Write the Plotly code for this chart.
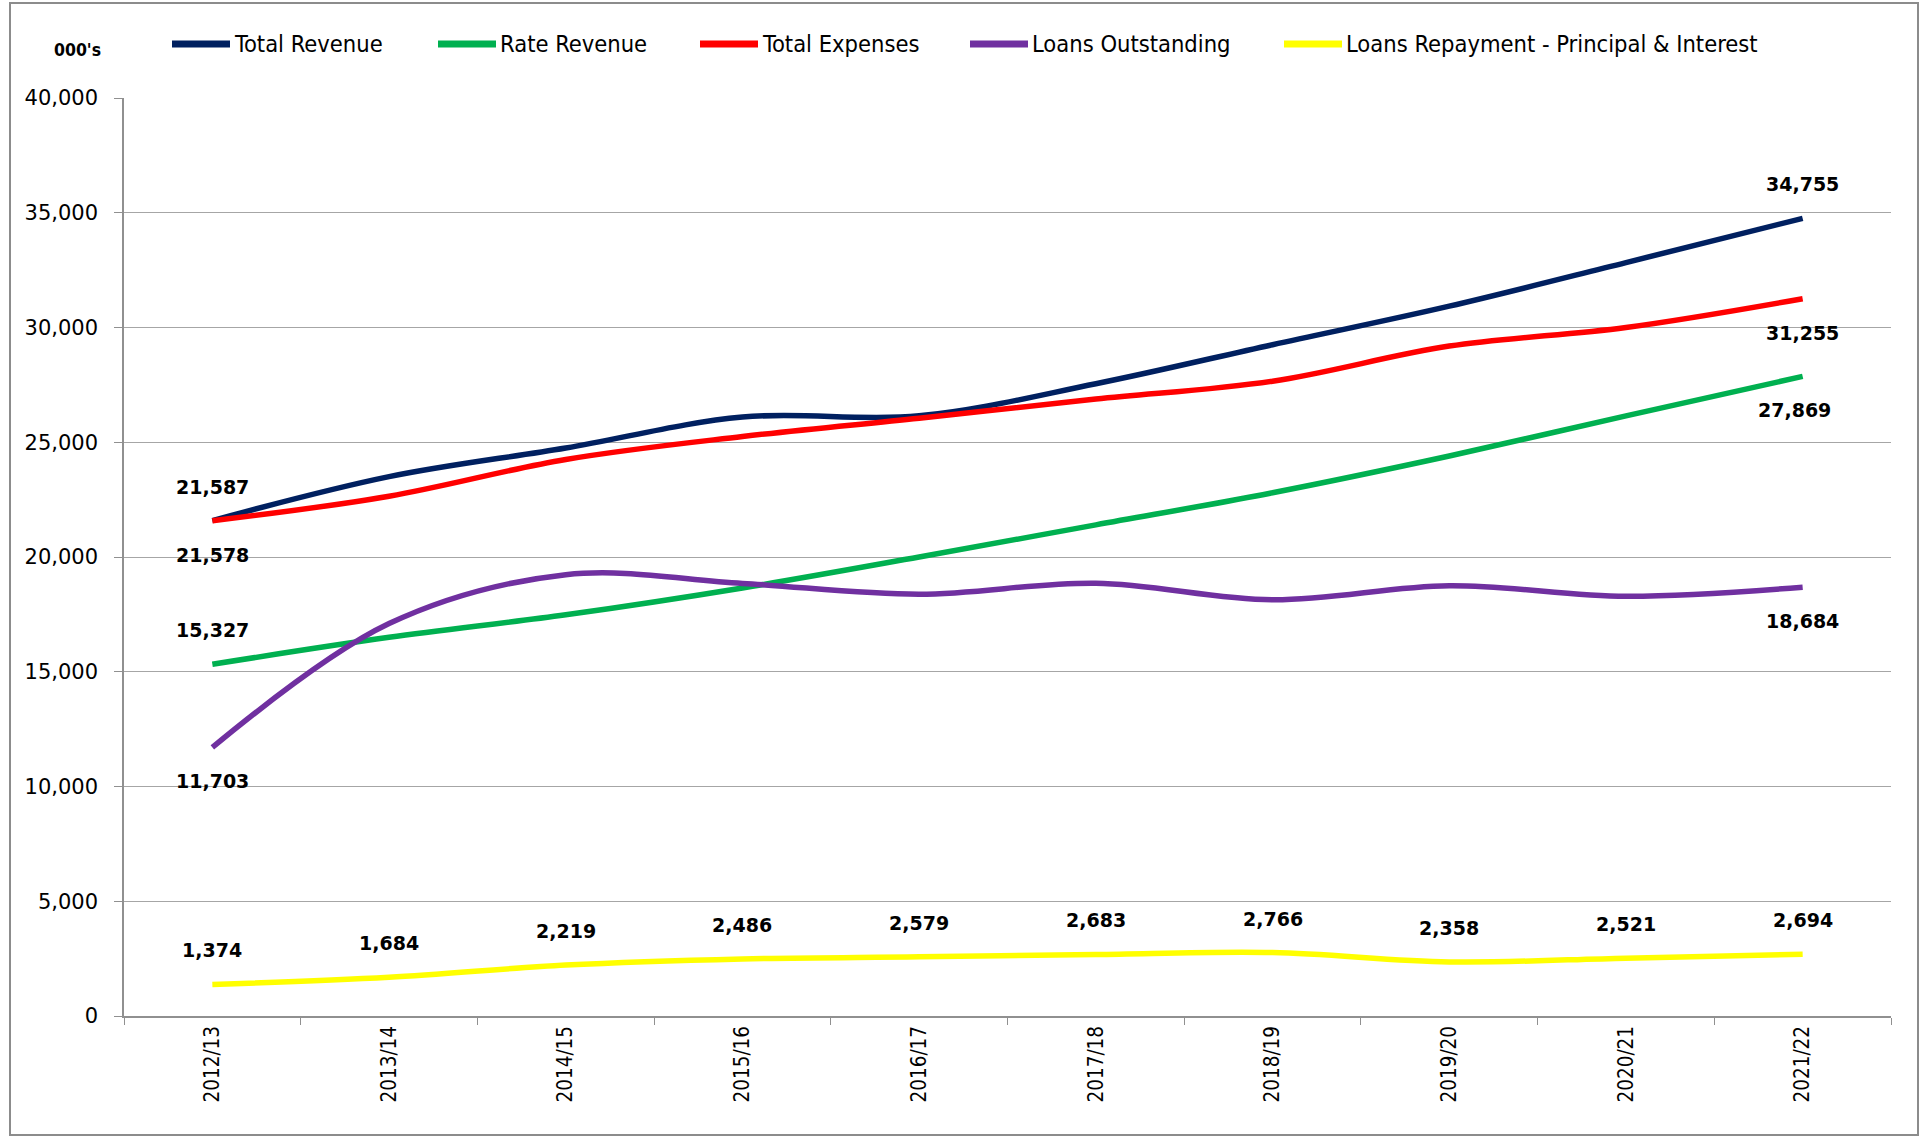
import plotly.graph_objects as go

# ---- data ----
years = ["2012/13", "2013/14", "2014/15", "2015/16", "2016/17",
         "2017/18", "2018/19", "2019/20", "2020/21", "2021/22"]
total_revenue = [21587, 23500, 24750, 26100, 26150, 27550, 29250, 30930, 32830, 34755]
rate_revenue = [15327, 16500, 17480, 18650, 20000, 21400, 22800, 24400, 26150, 27869]
total_expenses = [21578, 22650, 24250, 25250, 26050, 26880, 27660, 29190, 30000, 31255]
loans_outstanding = [11703, 17100, 19230, 18850, 18380, 18860, 18140, 18750, 18290, 18684]
loans_repayment = [1374, 1684, 2219, 2486, 2579, 2683, 2766, 2358, 2521, 2694]

series_names = ["Total Revenue", "Rate Revenue", "Total Expenses",
                "Loans Outstanding", "Loans Repayment - Principal & Interest"]
series_values = [total_revenue, rate_revenue, total_expenses, loans_outstanding, loans_repayment]
colors = ["#002060", "#00B050", "#FF0000", "#7030A0", "#FFFF00"]

# which points carry a data label, and on which side (+1 above, -1 below)
label_sides = [
    {0: 1, 9: 1},
    {0: 1, 9: -1},
    {0: -1, 9: -1},
    {0: -1, 9: -1},
    {i: 1 for i in range(10)},
]

NARROW = "DejaVu Sans Condensed"

# ---- layout geometry (pixels) ----
W, H = 1926, 1137
L, R, T, B = 124, 35, 98, 121
PW, PH = W - L - R, H - T - B


def px_x(px):
    return (px - L) / PW


def px_y(py):
    return (H - B - py) / PH


fig = go.Figure()
for name, vals, col in zip(series_names, series_values, colors):
    fig.add_trace(go.Scatter(
        x=years, y=vals, name=name, mode="lines",
        line=dict(color=col, width=5.5, shape="spline", smoothing=1.0),
        showlegend=False, hoverinfo="skip",
    ))

annotations = []
for vals, sides in zip(series_values, label_sides):
    for i, side in sides.items():
        xs = 0
        if vals is rate_revenue and i == 9:
            xs = -8
        annotations.append(dict(
            x=years[i], y=vals[i], xref="x", yref="y",
            text=f"{vals[i]:,}", showarrow=False,
            yshift=34 * side, xshift=xs,
            font=dict(family="DejaVu Sans", size=19, color="#000000", weight="bold"),
        ))

# manual legend
legend_starts = [172, 438, 700, 970, 1284]
legend_y = 44
shapes = []
for name, col, sx in zip(series_names, colors, legend_starts):
    shapes.append(dict(
        type="line", xref="paper", yref="paper",
        x0=px_x(sx), x1=px_x(sx + 58), y0=px_y(legend_y), y1=px_y(legend_y),
        line=dict(color=col, width=7),
    ))
    annotations.append(dict(
        x=px_x(sx + 60), y=px_y(legend_y), xref="paper", yref="paper",
        xanchor="left", yanchor="middle", showarrow=False, text=name,
        font=dict(family=NARROW, size=23.5, color="#000000"),
    ))

# units label
annotations.append(dict(
    x=px_x(77), y=px_y(50), xref="paper", yref="paper",
    xanchor="center", yanchor="middle", showarrow=False, text="000's",
    font=dict(family=NARROW, size=17.5, color="#000000", weight="bold"),
))

# outer chart border
shapes.append(dict(
    type="rect", xref="paper", yref="paper",
    x0=px_x(10), x1=px_x(1918), y0=px_y(1135), y1=px_y(3),
    line=dict(color="#8C8C8C", width=2), fillcolor="rgba(0,0,0,0)", layer="below",
))

fig.update_layout(
    width=W, height=H,
    margin=dict(l=L, r=R, t=T, b=B),
    paper_bgcolor="white", plot_bgcolor="white",
    annotations=annotations, shapes=shapes,
    showlegend=False,
)
fig.update_xaxes(
    type="category", range=[-0.5, 9.5],
    tickson="boundaries", ticks="outside", ticklen=7, tickcolor="#909090",
    showgrid=False, showline=True, linecolor="#909090", linewidth=1.5,
    tickangle=-90,
    tickfont=dict(family=NARROW, size=20.5, color="#000000"),
)
fig.update_yaxes(
    range=[0, 40000], dtick=5000, tickformat=",",
    ticks="outside", ticklen=8, tickcolor="#909090",
    showgrid=True, gridcolor="#A6A6A6", gridwidth=1,
    showline=True, linecolor="#909090", linewidth=1.5,
    zeroline=False, ticklabelstandoff=12,
    tickfont=dict(family="DejaVu Sans", size=21, color="#000000"),
)

fig.write_html("out.html")
